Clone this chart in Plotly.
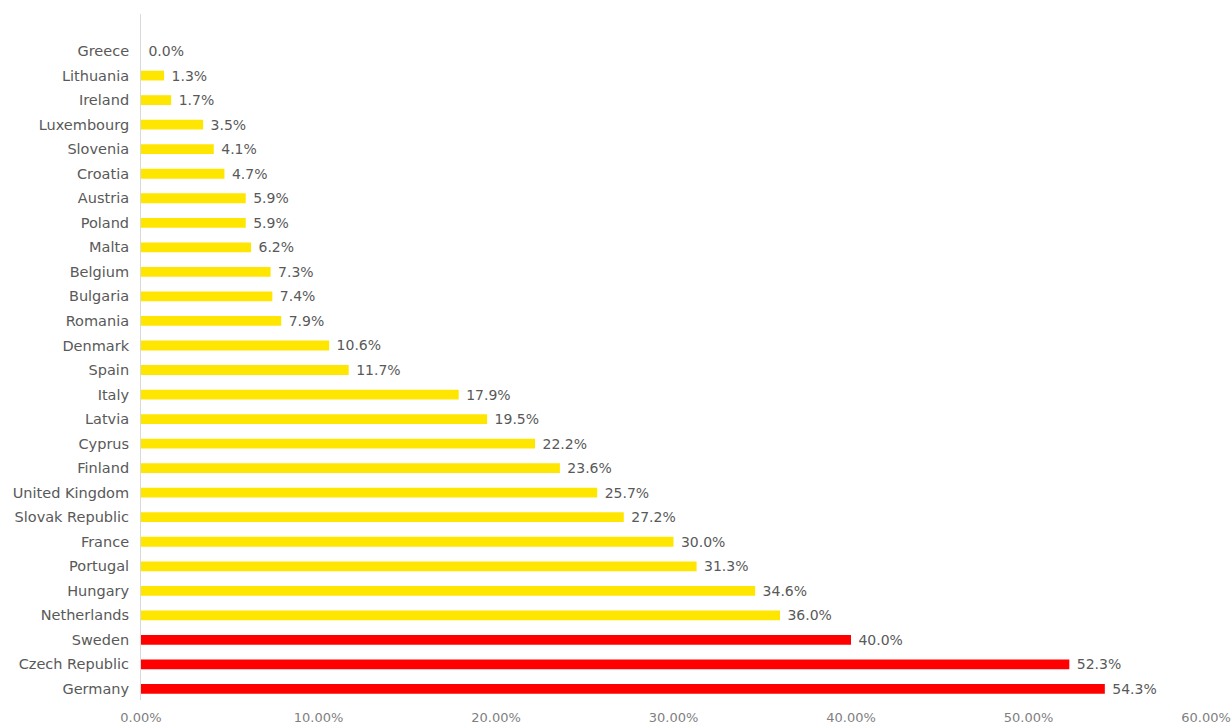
import plotly.graph_objects as go

# Countries listed top to bottom as displayed
countries = [
    "Greece", "Lithuania", "Ireland", "Luxembourg", "Slovenia", "Croatia",
    "Austria", "Poland", "Malta", "Belgium", "Bulgaria", "Romania", "Denmark",
    "Spain", "Italy", "Latvia", "Cyprus", "Finland", "United Kingdom",
    "Slovak Republic", "France", "Portugal", "Hungary", "Netherlands",
    "Sweden", "Czech Republic", "Germany",
]
shares = [
    0.000, 0.013, 0.017, 0.035, 0.041, 0.047, 0.059, 0.059, 0.062, 0.073,
    0.074, 0.079, 0.106, 0.117, 0.179, 0.195, 0.222, 0.236, 0.257, 0.272,
    0.300, 0.313, 0.346, 0.360, 0.400, 0.523, 0.543,
]
highlighted = {"Sweden", "Czech Republic", "Germany"}

x_ticks = [0.0, 0.1, 0.2, 0.3, 0.4, 0.5, 0.6]

YELLOW = "#FFE600"
RED = "#FF0000"

# plot from bottom to top so that Germany sits at the base
ys = countries[::-1]
xs = shares[::-1]
colors = [RED if c in highlighted else YELLOW for c in ys]
labels = [" {:.1f}%".format(v * 100) for v in xs]

fig = go.Figure(
    go.Bar(
        x=xs,
        y=ys,
        orientation="h",
        marker=dict(color=colors, line=dict(width=0)),
        text=labels,
        textposition="outside",
        constraintext="none",
        textfont=dict(family="DejaVu Sans", size=14, color="#595959"),
        cliponaxis=False,
        hoverinfo="skip",
    )
)

fig.update_layout(
    width=1232,
    height=727,
    margin=dict(l=141, r=26, t=14, b=27),
    paper_bgcolor="white",
    plot_bgcolor="white",
    bargap=0.6,
    showlegend=False,
    font=dict(family="DejaVu Sans", color="#595959"),
)

fig.update_xaxes(
    range=[0, 0.6],
    tickvals=x_ticks,
    tickformat=".2%",
    showgrid=False,
    zeroline=False,
    showline=False,
    ticks="outside",
    ticklen=5,
    tickcolor="rgba(0,0,0,0)",
    ticklabeloverflow="allow",
    automargin=False,
    tickfont=dict(family="DejaVu Sans", size=13, color="#7F7F7F"),
)

fig.update_yaxes(
    type="category",
    categoryorder="array",
    categoryarray=ys,
    range=[-0.45, 27.51],
    showgrid=False,
    zeroline=False,
    showline=True,
    linecolor="#D9D9D9",
    linewidth=1,
    ticks="",
    ticklabelstandoff=8,
    automargin=False,
    tickfont=dict(family="DejaVu Sans", size=14.5, color="#595959"),
)

fig.write_html("out.html")
